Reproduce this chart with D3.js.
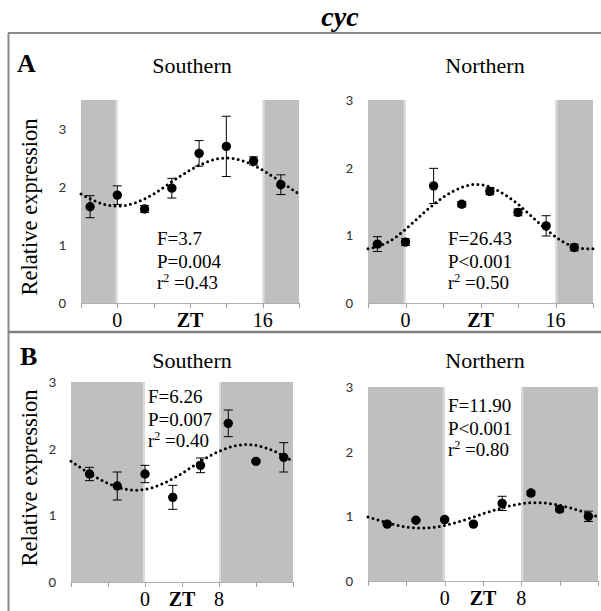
<!DOCTYPE html>
<html>
<head>
<meta charset="utf-8">
<script src="https://cdn.jsdelivr.net/npm/d3@7"></script>
<style>
  body { margin: 0; background: #fff; }
  svg { display: block; }
</style>
</head>
<body>
<div id="chart"></div>
<script>
// sampling times (ZT, hours)
const ztA = [-3, 0, 3, 6, 9, 12, 15, 18];
const ztB = [-6, -3, 0, 3, 6, 9, 12, 15];

// relative expression, mean and error
const southA = [1.66, 1.86, 1.62, 1.98, 2.58, 2.70, 2.45, 2.04];
const southAErr = [0.19, 0.16, 0.06, 0.17, 0.22, 0.52, 0.07, 0.17];
const northA = [0.87, 0.90, 1.73, 1.46, 1.65, 1.34, 1.14, 0.82];
const northAErr = [0.11, 0.05, 0.26, 0.04, 0.05, 0.05, 0.15, 0.05];
const southB = [1.62, 1.44, 1.62, 1.27, 1.75, 2.38, 1.81, 1.87];
const southBErr = [0.10, 0.21, 0.13, 0.18, 0.11, 0.20, 0.02, 0.22];
const northB = [0.88, 0.94, 0.95, 0.88, 1.20, 1.36, 1.11, 1.00];
const northBErr = [0.02, 0.02, 0.02, 0.02, 0.11, 0.03, 0.04, 0.08];

// fitted curves, every 2 h
const fitZtA = [-4, -2, 0, 2, 4, 6, 8, 10, 12, 14, 16, 18, 20];
const fitSouthA = [1.88, 1.73, 1.67, 1.73, 1.88, 2.09, 2.29, 2.44, 2.50, 2.44, 2.29, 2.09, 1.88];
const fitNorthA = [0.80, 0.89, 1.09, 1.34, 1.56, 1.71, 1.75, 1.65, 1.46, 1.21, 0.98, 0.83, 0.80];
const fitZtB = [-8, -6, -4, -2, 0, 2, 4, 6, 8, 10, 12, 14, 16];
const fitSouthB = [1.81, 1.63, 1.48, 1.39, 1.39, 1.48, 1.63, 1.81, 1.96, 2.05, 2.05, 1.96, 1.81];
const fitNorthB = [0.99, 0.90, 0.835, 0.82, 0.86, 0.94, 1.04, 1.13, 1.195, 1.21, 1.17, 1.09, 0.99];

// axes
const domainA = [-4, 20];
const domainB = [-8, 16];
const lightA = [0, 16];
const lightB = [0, 8];
const ticksA = [-4, 0, 4, 8, 12, 16, 20];
const ticksB = [-8, -4, 0, 4, 8, 12, 16];
const tickLabelsA = { 0: '0', 8: 'ZT', 16: '16' };
const tickLabelsB = { 0: '0', 4: 'ZT', 8: '8' };
const yTicks = [0, 1, 2, 3];

// statistics
const statsSouthA = ['F=3.7', 'P=0.004', '0.43'];
const statsNorthA = ['F=26.43', 'P<0.001', '0.50'];
const statsSouthB = ['F=6.26', 'P=0.007', '0.40'];
const statsNorthB = ['F=11.90', 'P<0.001', '0.80'];

const W = 601;
const H = 611;
// the renderer wants a single family name here
const SERIF = 'Liberation Serif';
const SANS = 'Carlito';

const svg = d3
  .select('#chart')
  .append('svg')
  .attr('width', W)
  .attr('height', H)
  .attr('font-family', SERIF);

// frame
const FRAME = '#8a8a8a';
svg.append('line').attr('x1', 8).attr('x2', W).attr('y1', 33).attr('y2', 33)
  .attr('stroke', FRAME).attr('stroke-width', 2);
svg.append('line').attr('x1', 8.5).attr('x2', 8.5).attr('y1', 33).attr('y2', H)
  .attr('stroke', FRAME).attr('stroke-width', 2);
svg.append('line').attr('x1', 8).attr('x2', W).attr('y1', 332).attr('y2', 332)
  .attr('stroke', '#7f7f7f').attr('stroke-width', 2.5);

svg.append('text')
  .attr('x', 340).attr('y', 26)
  .attr('text-anchor', 'middle')
  .attr('font-size', 28).attr('font-weight', 'bold').attr('font-style', 'italic')
  .text('cyc');

svg.append('text').attr('x', 17).attr('y', 72)
  .attr('font-size', 26).attr('font-weight', 'bold').text('A');
svg.append('text').attr('x', 20).attr('y', 365)
  .attr('font-size', 26).attr('font-weight', 'bold').text('B');

[207, 478].forEach((cy) => {
  svg.append('text')
    .attr('transform', 'translate(37,' + cy + ') rotate(-90)')
    .attr('text-anchor', 'middle')
    .attr('font-size', 22.5)
    .text('Relative expression');
});

function drawPanel(p) {
  const x = d3.scaleLinear().domain(p.domain).range([p.left, p.right]);
  const y = d3.scaleLinear().domain(p.yDomain).range([p.bottom, p.top]);
  const g = svg.append('g');

  // dark / light background
  g.append('rect')
    .attr('x', x(p.domain[0])).attr('y', p.top)
    .attr('width', x(p.domain[1]) - x(p.domain[0])).attr('height', p.bottom - p.top)
    .attr('fill', '#bfbfbf');
  g.append('rect')
    .attr('x', x(p.light[0])).attr('y', p.top)
    .attr('width', x(p.light[1]) - x(p.light[0])).attr('height', p.bottom - p.top)
    .attr('fill', '#fff');
  p.light.forEach((t, i) => {
    g.append('line')
      .attr('x1', x(t) + (i === 0 ? -1 : 1)).attr('x2', x(t) + (i === 0 ? -1 : 1))
      .attr('y1', p.top).attr('y2', p.bottom)
      .attr('stroke', '#dadada').attr('stroke-width', 2);
  });

  // x axis
  g.append('line')
    .attr('x1', p.left).attr('x2', p.right).attr('y1', p.bottom + 0.5).attr('y2', p.bottom + 0.5)
    .attr('stroke', '#b0b0b0');
  g.selectAll('line.xtick')
    .data(p.ticks)
    .join('line')
    .attr('class', 'xtick')
    .attr('x1', (d) => Math.round(x(d)) + 0.5).attr('x2', (d) => Math.round(x(d)) + 0.5)
    .attr('y1', p.bottom).attr('y2', p.bottom + 5)
    .attr('stroke', '#a0a0a0');
  g.selectAll('text.xlab')
    .data(p.ticks.filter((d) => p.tickLabels[d] !== undefined))
    .join('text')
    .attr('class', 'xlab')
    .attr('x', (d) => x(d)).attr('y', p.bottom + 24)
    .attr('text-anchor', 'middle')
    .attr('font-size', 20)
    .attr('font-weight', (d) => (p.tickLabels[d] === 'ZT' ? 'bold' : 'normal'))
    .text((d) => p.tickLabels[d]);

  // y tick labels
  g.selectAll('text.ylab')
    .data(yTicks)
    .join('text')
    .attr('class', 'ylab')
    .attr('font-family', SANS)
    .attr('font-size', 15)
    .attr('fill', '#333')
    .attr('x', p.left - 15).attr('y', (d) => y(d) + 5)
    .attr('text-anchor', 'end')
    .text((d) => d);

  // fitted curve
  const line = d3.line()
    .x((d, i) => x(p.fitZt[i]))
    .y((d) => y(d))
    .curve(d3.curveNatural);
  g.append('path')
    .datum(p.fit)
    .attr('d', line)
    .attr('fill', 'none')
    .attr('stroke', '#000')
    .attr('stroke-width', 3)
    .attr('stroke-linecap', 'round')
    .attr('stroke-dasharray', '0 5.2');

  // error bars
  const eb = g.selectAll('g.eb')
    .data(p.values)
    .join('g')
    .attr('class', 'eb');
  eb.append('line')
    .attr('x1', (d, i) => x(p.zt[i])).attr('x2', (d, i) => x(p.zt[i]))
    .attr('y1', (d, i) => y(d + p.err[i])).attr('y2', (d, i) => y(d - p.err[i]))
    .attr('stroke', '#000').attr('stroke-width', 1);
  [1, -1].forEach((s) => {
    eb.append('line')
      .attr('x1', (d, i) => x(p.zt[i]) - 4.5).attr('x2', (d, i) => x(p.zt[i]) + 4.5)
      .attr('y1', (d, i) => y(d + s * p.err[i])).attr('y2', (d, i) => y(d + s * p.err[i]))
      .attr('stroke', '#000').attr('stroke-width', 1);
  });

  // points
  g.selectAll('circle.dot')
    .data(p.values)
    .join('circle')
    .attr('class', 'dot')
    .attr('cx', (d, i) => x(p.zt[i]))
    .attr('cy', (d) => y(d))
    .attr('r', 4.7)
    .attr('fill', '#000');

  // title
  g.append('text')
    .attr('x', p.titleX).attr('y', p.titleY)
    .attr('text-anchor', 'middle')
    .attr('font-size', 22)
    .text(p.title);

  // statistics
  const st = g.append('g').attr('font-size', 19);
  st.append('text').attr('x', p.statX).attr('y', p.statY).text(p.stats[0]);
  st.append('text').attr('x', p.statX).attr('y', p.statY + 22.5).text(p.stats[1]);
  const r2 = st.append('text').attr('x', p.statX).attr('y', p.statY + 44);
  r2.append('tspan').text('r');
  r2.append('tspan').attr('dy', -7).attr('font-size', 12).text('2');
  r2.append('tspan').attr('dy', 7).text(' =' + p.stats[2]);
}

drawPanel({
  domain: domainA, yDomain: [0, 3.5], light: lightA, ticks: ticksA, tickLabels: tickLabelsA,
  left: 81, right: 299, top: 100, bottom: 303,
  zt: ztA, values: southA, err: southAErr, fitZt: fitZtA, fit: fitSouthA,
  title: 'Southern', titleX: 192, titleY: 73,
  stats: statsSouthA, statX: 157, statY: 245
});
drawPanel({
  domain: domainA, yDomain: [0, 3], light: lightA, ticks: ticksA, tickLabels: tickLabelsA,
  left: 368, right: 593, top: 100, bottom: 303,
  zt: ztA, values: northA, err: northAErr, fitZt: fitZtA, fit: fitNorthA,
  title: 'Northern', titleX: 485, titleY: 73,
  stats: statsNorthA, statX: 448, statY: 245
});
drawPanel({
  domain: domainB, yDomain: [0, 3], light: lightB, ticks: ticksB, tickLabels: tickLabelsB,
  left: 71, right: 293, top: 382, bottom: 582,
  zt: ztB, values: southB, err: southBErr, fitZt: fitZtB, fit: fitSouthB,
  title: 'Southern', titleX: 192, titleY: 368,
  stats: statsSouthB, statX: 148, statY: 403
});
drawPanel({
  domain: domainB, yDomain: [0, 3], light: lightB, ticks: ticksB, tickLabels: tickLabelsB,
  left: 368, right: 598, top: 387, bottom: 581,
  zt: ztB, values: northB, err: northBErr, fitZt: fitZtB, fit: fitNorthB,
  title: 'Northern', titleX: 485, titleY: 368,
  stats: statsNorthB, statX: 448, statY: 412
});
</script>
</body>
</html>
